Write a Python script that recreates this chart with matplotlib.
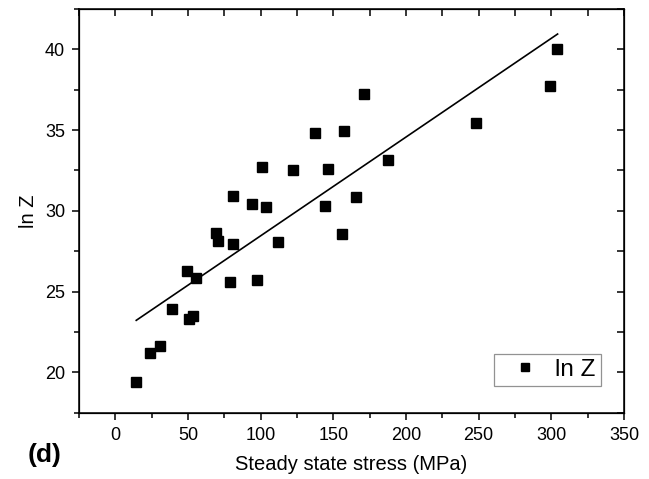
import matplotlib
matplotlib.use("Agg")
import matplotlib.pyplot as plt
from matplotlib.ticker import MultipleLocator

plt.rcParams['font.family'] = ['Liberation Sans', 'DejaVu Sans']

# Data
stress = [14.4, 23.6, 31.0, 38.8, 50.7, 53.2, 49.5, 55.7, 78.7, 97.5,
          81.0, 112.2, 70.4, 69.5, 81.2, 94.0, 103.4, 100.7, 122.0, 137.1,
          146.5, 144.5, 171.2, 157.2, 165.8, 187.6, 156.3, 248.5, 299.2, 303.8]
lnZ = [19.4, 21.2, 21.65, 23.95, 23.3, 23.5, 26.3, 25.82, 25.62, 25.74,
       27.93, 28.06, 28.12, 28.6, 30.9, 30.43, 30.22, 32.73, 32.51, 34.81,
       32.6, 30.33, 37.22, 34.94, 30.88, 33.17, 28.56, 35.45, 37.76, 40.04]

# Linear fit line endpoints (as drawn)
fit_x = [14.4, 304.3]
fit_y = [23.22, 40.95]

xticks = [0, 50, 100, 150, 200, 250, 300, 350]
yticks = [20, 25, 30, 35, 40]

fig = plt.figure(figsize=(6.49, 4.79), dpi=100)
ax = fig.add_axes([0.1217, 0.1384, 0.8398, 0.8428])

ax.plot(stress, lnZ, linestyle='none', marker='s', markersize=7.0,
        color='black', label='ln Z')
ax.plot(fit_x, fit_y, color='black', linewidth=1.2)

ax.set_xlim(-25, 350)
ax.set_ylim(17.5, 42.5)
ax.set_xticks(xticks)
ax.set_yticks(yticks)
ax.xaxis.set_minor_locator(MultipleLocator(25))
ax.yaxis.set_minor_locator(MultipleLocator(2.5))
ax.tick_params(which='both', direction='out', width=1.1, labelsize=13,
               top=False, right=False)
ax.tick_params(which='major', length=5, pad=5)
ax.tick_params(which='minor', length=3.5)
for s in ax.spines.values():
    s.set_linewidth(1.1)

# inward ticks on top and right
axt = ax.twiny()
axt.set_xlim(ax.get_xlim())
axt.set_xticks(xticks)
axt.xaxis.set_minor_locator(MultipleLocator(25))
axt.tick_params(which='both', direction='in', width=1.1, labeltop=False)
axt.tick_params(which='major', length=5)
axt.tick_params(which='minor', length=5)
axr = ax.twinx()
axr.set_ylim(ax.get_ylim())
axr.set_yticks(yticks)
axr.yaxis.set_minor_locator(MultipleLocator(2.5))
axr.tick_params(which='both', direction='in', width=1.1, labelright=False)
axr.tick_params(which='major', length=5)
axr.tick_params(which='minor', length=5)

ax.set_xlabel('Steady state stress (MPa)', fontsize=14.5, labelpad=8)
ax.set_ylabel('ln Z', fontsize=14.5, labelpad=5)

leg = ax.legend(loc='lower right', bbox_to_anchor=(0.957, 0.067),
                borderaxespad=0, fontsize=17.5, frameon=True, fancybox=False,
                edgecolor='#777777', handlelength=2.2, handletextpad=0.13,
                borderpad=0.2, markerscale=0.85)
leg.get_frame().set_linewidth(0.9)

fig.text(0.042, 0.035, '(d)', fontsize=19, fontweight='bold')

fig.savefig('out.png', dpi=100)
